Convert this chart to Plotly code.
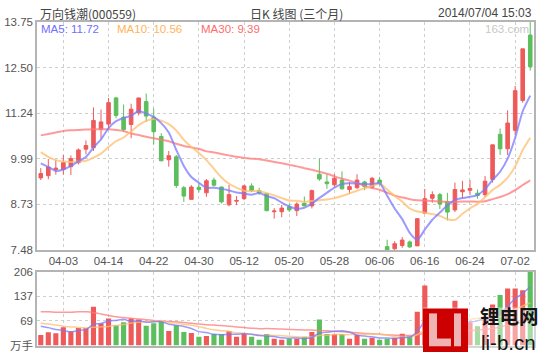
import plotly.graph_objects as go

# ---------------- data ----------------
dates = ["03-31", "04-01", "04-02", "04-03", "04-04", "04-08", "04-09", "04-10", "04-11", "04-14",
         "04-15", "04-16", "04-17", "04-18", "04-21", "04-22", "04-23", "04-24", "04-25", "04-28",
         "04-29", "04-30", "05-05", "05-06", "05-07", "05-08", "05-09", "05-12", "05-13", "05-14",
         "05-15", "05-16", "05-19", "05-20", "05-21", "05-22", "05-23", "05-26", "05-27", "05-28",
         "05-29", "05-30", "06-03", "06-04", "06-05", "06-06", "06-09", "06-10", "06-11", "06-12",
         "06-13", "06-16", "06-17", "06-18", "06-19", "06-20", "06-23", "06-24", "06-25", "06-26",
         "06-27", "06-30", "07-01", "07-02", "07-03", "07-04"]

opens = [9.46, 9.52, 9.69, 9.69, 9.77, 9.88, 10.25, 10.29, 10.80, 10.94,
         11.66, 11.13, 10.93, 11.25, 11.56, 11.13, 10.60, 9.96, 10.04, 9.19,
         8.87, 9.20, 9.05, 9.40, 9.21, 8.72, 8.82, 8.89, 9.24, 9.11,
         9.03, 8.53, 8.53, 8.67, 8.56, 8.76, 8.69, 9.56, 9.35, 9.27,
         9.40, 9.14, 9.19, 9.35, 9.20, 9.40, 7.57, 7.51, 7.60, 7.70,
         7.59, 8.49, 8.90, 9.00, 8.81, 8.58, 9.08, 9.12, 9.04, 9.00,
         9.42, 10.66, 10.26, 10.77, 11.59, 13.39]
highs = [9.73, 9.98, 9.95, 10.09, 10.08, 10.27, 10.49, 11.40, 11.34, 11.66,
         11.69, 11.48, 11.50, 11.66, 11.78, 11.37, 10.69, 10.20, 10.09, 9.24,
         9.26, 9.33, 9.43, 9.47, 9.22, 9.27, 8.96, 9.27, 9.31, 9.19,
         9.05, 8.63, 8.72, 8.75, 8.79, 8.95, 9.14, 9.995, 9.56, 9.56,
         9.64, 9.35, 9.56, 9.38, 9.49, 9.49, 7.76, 7.72, 7.83, 7.74,
         8.34, 9.16, 9.09, 9.05, 9.05, 9.33, 9.38, 9.40, 9.14, 9.51,
         10.37, 10.82, 11.32, 11.99, 13.01, 13.75]
lows = [9.40, 9.42, 9.55, 9.55, 9.54, 9.83, 10.11, 10.20, 10.54, 10.80,
        11.10, 10.73, 10.55, 11.18, 11.00, 10.38, 9.92, 9.77, 9.18, 8.80,
        8.87, 9.06, 8.94, 9.22, 8.76, 8.68, 8.71, 8.85, 9.07, 9.00,
        8.54, 8.34, 8.38, 8.52, 8.41, 8.68, 8.62, 9.38, 9.16, 9.22,
        9.14, 9.03, 9.16, 9.12, 9.16, 9.25, 7.48, 7.48, 7.54, 7.54,
        7.59, 8.47, 8.78, 8.60, 8.29, 8.52, 8.90, 8.99, 8.89, 8.93,
        9.33, 10.09, 10.09, 10.64, 11.53, 12.41]
closes = [9.58, 9.76, 9.73, 9.88, 9.99, 10.23, 10.35, 11.04, 11.00, 11.53,
          11.18, 10.79, 11.35, 11.66, 11.16, 10.73, 9.93, 10.07, 9.25, 8.96,
          9.21, 9.14, 9.38, 9.26, 8.80, 9.00, 8.84, 9.24, 9.11, 9.05,
          8.56, 8.55, 8.63, 8.58, 8.74, 8.69, 9.11, 9.43, 9.30, 9.45,
          9.16, 9.22, 9.40, 9.22, 9.45, 9.30, 7.48, 7.65, 7.75, 7.56,
          8.34, 8.89, 9.00, 8.74, 8.52, 9.14, 9.13, 9.17, 8.98, 9.37,
          10.37, 10.26, 10.97, 11.86, 13.01, 12.52]
volumes = [29.7, 36.9, 34.2, 51.3, 39.6, 48.6, 48.6, 108.0, 61.2, 75.6,
           56.7, 64.8, 75.6, 72.9, 54.9, 62.1, 67.5, 40.5, 56.7, 37.8,
           35.1, 24.3, 27.0, 32.4, 32.4, 40.5, 24.3, 35.1, 24.3, 16.2,
           32.4, 18.9, 16.2, 18.9, 18.9, 24.3, 37.8, 72.9, 32.4, 32.4,
           32.4, 18.9, 29.7, 18.9, 22.0, 16.0, 19.0, 22.0, 33.0, 27.0,
           94.0, 167.0, 85.0, 40.0, 45.0, 125.0, 55.0, 65.0, 54.0, 80.0,
           114.0, 141.0, 159.0, 159.0, 154.0, 206.0]

# moving-average values before enough history exists
ma5_head = [9.86, 9.76, 9.65, 9.69]
ma10_head = [10.17, 10.04, 9.95, 9.91, 9.90, 9.91, 9.93, 10.02, 10.13]
ma30_head = [10.63, 10.67, 10.71, 10.75, 10.77, 10.78, 10.79, 10.80, 10.80, 10.80,
             10.78, 10.75, 10.68, 10.64, 10.59, 10.55, 10.51, 10.47, 10.40, 10.34,
             10.30, 10.26, 10.19, 10.16, 10.12, 10.08, 10.04, 10.01, 9.99]
vma5_head = [54, 50, 45, 42]
vma10_head = [62, 60, 57, 54, 52, 50, 49, 51, 52]
vma30_head = [94, 94, 93, 93, 93, 94, 94, 92, 88, 84, 80, 78, 76, 74, 72, 70, 68, 67, 66, 64,
              62, 60, 58, 57, 56, 54, 52, 50, 48.5]

tick_dates = ["04-03", "04-14", "04-22", "04-30", "05-12", "05-20", "05-28",
              "06-06", "06-16", "06-24", "07-02"]
price_ticktext = ["7.48", "8.73", "9.99", "11.24", "12.50", "13.75"]
vol_ticktext = ["万手", "69", "137", "206"]

title_left = "万向钱潮(000559)"
title_mid = "日K 线图 (三个月)"
title_right = "2014/07/04 15:03"


def moving_avg(vals, n, head):
    out = []
    for i in range(len(vals)):
        if i < n - 1:
            out.append(head[i])
        else:
            out.append(sum(vals[i - n + 1:i + 1]) / n)
    return out


ma5 = moving_avg(closes, 5, ma5_head)
ma10 = moving_avg(closes, 10, ma10_head)
ma30 = moving_avg(closes, 30, ma30_head)
vma5 = moving_avg(volumes, 5, vma5_head)
vma10 = moving_avg(volumes, 10, vma10_head)
vma30 = moving_avg(volumes, 30, vma30_head)

# ---------------- style ----------------
W, H = 540, 360
ML, MR = 37, 6
RED = "#EE5A5A"
GREEN = "#5CBE5C"
C5 = "rgba(120,120,255,0.75)"
C10 = "rgba(255,190,110,0.75)"
C30 = "rgba(255,120,120,0.75)"
FONT = "Liberation Sans, Arial, sans-serif"
CJK = "Noto Sans CJK SC, sans-serif"
GRID = "#cfcfcf"
AXIS = "#b4b4b4"


def px(xp):
    return (xp - ML) / (W - ML - MR)


def py(yp):
    return 1 - yp / H


pmin, pmax = float(min(lows)), float(max(highs))
price_tickvals = [pmin + k * (pmax - pmin) / 5 for k in range(6)]
vmax = float(max(volumes))
vol_tickvals = [k * vmax / 3 for k in range(4)]

fig = go.Figure()
fig.add_trace(go.Candlestick(
    x=dates, open=opens, high=highs, low=lows, close=closes,
    increasing=dict(line=dict(color=RED, width=1), fillcolor=RED),
    decreasing=dict(line=dict(color=GREEN, width=1), fillcolor=GREEN),
    whiskerwidth=0, xaxis="x", yaxis="y", showlegend=False, hoverinfo="skip"))
for vals, col in [(ma30, C30), (ma10, C10), (ma5, C5)]:
    fig.add_trace(go.Scatter(x=dates, y=vals, mode="lines", xaxis="x", yaxis="y",
                             line=dict(color=col, width=2, shape="spline", smoothing=0.6),
                             showlegend=False, hoverinfo="skip"))

bar_colors = [RED if c >= o else GREEN for o, c in zip(opens, closes)]
fig.add_trace(go.Bar(x=dates, y=volumes, marker=dict(color=bar_colors, line=dict(width=0)),
                     width=0.68, xaxis="x2", yaxis="y2", showlegend=False, hoverinfo="skip"))
for vals, col in [(vma30, C30), (vma10, C10), (vma5, C5)]:
    fig.add_trace(go.Scatter(x=dates, y=vals, mode="lines", xaxis="x2", yaxis="y2",
                             line=dict(color=col, width=1.5, shape="spline", smoothing=0.6),
                             showlegend=False, hoverinfo="skip"))

tickfont = dict(family=FONT, size=11.5, color="#555555")
common_x = dict(type="category", range=[-0.5, len(dates) - 0.5], tickmode="array",
                tickvals=tick_dates, showgrid=True, gridcolor=GRID, griddash="3px,3px",
                gridwidth=1, showline=True, linecolor=AXIS, linewidth=1.5, mirror=True,
                ticks="", zeroline=False, fixedrange=True)
fig.update_layout(
    width=W, height=H,
    margin=dict(l=ML, r=MR, t=0, b=0),
    paper_bgcolor="white", plot_bgcolor="white",
    boxgap=0.32, bargap=0.3,
    xaxis=dict(common_x, domain=[0, 1], anchor="y", tickfont=tickfont,
               rangeslider=dict(visible=False)),
    xaxis2=dict(common_x, domain=[0, 1], anchor="y2", matches="x", showticklabels=False),
    yaxis=dict(domain=[py(252.3), py(16.5)], range=[pmin, pmax], tickmode="array",
               tickvals=price_tickvals, ticktext=price_ticktext, tickfont=tickfont,
               showgrid=True, gridcolor=GRID, griddash="3px,3px", showline=True,
               linecolor=AXIS, linewidth=1.5, mirror=True, ticks="", zeroline=False,
               fixedrange=True),
    yaxis2=dict(domain=[py(351.3), py(274.7)], range=[0, vmax], tickmode="array",
                tickvals=vol_tickvals, ticktext=vol_ticktext,
                tickfont=dict(family=FONT + ", " + CJK, size=11.5, color="#555555"),
                showgrid=True, gridcolor=GRID, griddash="3px,3px", showline=True,
                linecolor=AXIS, linewidth=1.5, mirror=True, ticks="", zeroline=False,
                fixedrange=True),
    showlegend=False,
)

ann = []
ann.append(dict(x=px(38), y=py(7.5), xref="paper", yref="paper", text=title_left,
                showarrow=False, xanchor="left", yanchor="middle",
                font=dict(family=CJK, size=12, color="#444444")))
ann.append(dict(x=px(296), y=py(7.5), xref="paper", yref="paper", text=title_mid,
                showarrow=False, xanchor="center", yanchor="middle",
                font=dict(family=CJK, size=12, color="#444444")))
ann.append(dict(x=px(534), y=py(7.5), xref="paper", yref="paper", text=title_right,
                showarrow=False, xanchor="right", yanchor="middle",
                font=dict(family=FONT, size=12, color="#444444")))
legend_items = [("MA5: %.2f" % ma5[-1], "#6f6fff", 39),
                ("MA10: %.2f" % ma10[-1], "#ffb45a", 115),
                ("MA30: %.2f" % ma30[-1], "#ff6a6a", 199)]
for txt, col, xp in legend_items:
    ann.append(dict(x=px(xp), y=py(24), xref="paper", yref="paper", text=txt,
                    showarrow=False, xanchor="left", yanchor="middle",
                    font=dict(family=FONT, size=11.5, color=col)))
ann.append(dict(x=px(531), y=py(24), xref="paper", yref="paper", text="163.com",
                showarrow=False, xanchor="right", yanchor="middle",
                font=dict(family=FONT, size=11.5, color="#c8c8c8")))
# watermark text
ann.append(dict(x=px(509), y=py(336), xref="paper", yref="paper", text="<b>锂电网</b>",
                showarrow=False, xanchor="center", yanchor="bottom", borderpad=0,
                font=dict(family=CJK, size=19.5, color="#151515")))
ann.append(dict(x=px(508), y=py(335), xref="paper", yref="paper", text="li-b.cn",
                showarrow=False, xanchor="center", yanchor="top", borderpad=0,
                font=dict(family=FONT, size=20.5, color="#151515")))
fig.update_layout(annotations=ann)


def rect(x0, y0, x1, y1, fill, opacity=1.0, line=None):
    return dict(type="rect", xref="paper", yref="paper", x0=px(x0), x1=px(x1),
                y0=py(y1), y1=py(y0), fillcolor=fill, opacity=opacity,
                line=line or dict(width=0), layer="above")


shapes = [
    rect(423, 312, 540, 358, "white", 0.45),
    rect(423, 313, 468, 358, "#cc0000", 1.0),
    rect(429, 318, 437, 352, "white", 0.7),
    rect(437, 344, 451, 352, "white", 0.7),
    rect(454, 318, 461, 352, "white", 0.7),
]
fig.update_layout(shapes=shapes)

fig.write_html("out.html", config={"displayModeBar": False},
               post_script="document.body.style.margin='0';document.body.style.padding='0';")
